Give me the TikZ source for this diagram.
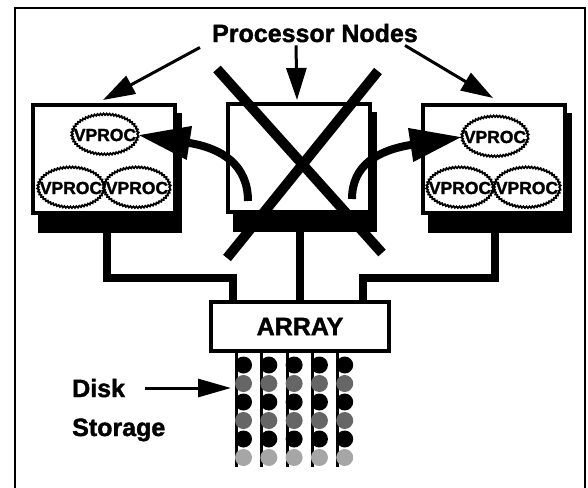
\documentclass[tikz,border=0pt]{standalone}
\usepackage{fontspec}
\setmainfont{Liberation Sans}[BoldFeatures={FakeBold=1.5}]
\usetikzlibrary{arrows.meta,decorations.pathmorphing,calc}
\begin{document}
\begin{tikzpicture}[x=1pt,y=-1pt,
  lbl/.style={font=\bfseries\fontsize{25}{25}\selectfont, inner sep=0pt},
  vp/.style={font=\bfseries\fontsize{17.5}{17.5}\selectfont, inner sep=0pt},
  pbox/.style={draw, line width=4pt, fill=white, minimum width=142pt, minimum height=108pt, inner sep=0pt},
  wavy/.style={decorate, decoration={snake, amplitude=0.8pt, segment length=3pt}, line width=1.8pt},
  ptr/.style={line width=3pt, -{Triangle[length=32pt,width=20pt]}},
  bigarr/.style={line width=8pt, -{Triangle[length=52pt,width=32pt]}},
  wire/.style={line width=8pt},
  xline/.style={line width=10pt},
]
\useasboundingbox (0,0) rectangle (588,487);
% frame
\draw[line width=2pt] (15,490) -- (15,8) -- (585,8) -- (585,490);

% boxes (with shadows)
\coordinate (lc) at (104,159);
\coordinate (cc) at (299,158);
\coordinate (rc) at (494,159);
\foreach \c in {lc,cc,rc}{
  \fill ($(\c)+(-66,-46)$) rectangle ($(\c)+(78,74)$);
}
\node[pbox] (lbox) at (lc) {};
\node[pbox] (cbox) at (cc) {};
\node[pbox] (rbox) at (rc) {};

% wires
\draw[wire] ([shift={(3,74)}]lbox.center) -- ++(0,45) -| ([shift={(-67,0)}]300,301);
\draw[wire] ([shift={(1,74)}]cbox.center) -- (300,301);
\draw[wire] ([shift={(1,74)}]rbox.center) -- ++(0,45) -| ([shift={(63,0)}]300,301);
\node[draw, line width=3.5pt, fill=white, minimum width=178pt, minimum height=49pt, lbl] (arr) at (300,326.5) {ARRAY};

% VPROCs
\foreach \n/\x/\y in {la/105/135, lb/71/188, lcx/137/188, ra/495/137, rb/460/188, rcx/527/188}{
  \node[vp] (\n) at (\x,\y) {VPROC};
  \draw[wavy] (\n.center) ellipse [x radius=33pt, y radius=20pt];
}
\coordinate (laE) at ($(la.center)+(33,0)$);
\coordinate (raW) at ($(ra.center)+(-33,0)$);

% X over center box
\draw[xline] (217,69) -- (382,253);
\draw[xline] (378,71) -- (227,258);

% curved arrows
\draw[bigarr] (248,201) .. controls (248,165) and (222,148) .. (laE);
\draw[bigarr] (352,199) .. controls (352,165) and (378,150) .. (raW);

% title
\node[lbl, anchor=base] (title) at (315,42) {Processor Nodes};
\draw[ptr] ([shift={(-12,5)}]title.south west) -- ([shift={(-1,-3)}]lbox.north);
\draw[ptr] ([shift={(-19,3)}]title.south) -- ([shift={(-2,-2)}]cbox.north);
\draw[ptr] ([shift={(-13,3)}]title.south east) -- ([shift={(-1,-5)}]rbox.north);

% disks
\foreach \i in {0,...,4}{
  \pgfmathsetmacro{\xx}{235+25.3*\i}
  \fill (\xx,352) rectangle (\xx+3,467);
  \foreach \r/\col in {0/black, 1/black!60, 2/black, 3/black!60, 4/black, 5/black!35}{
    \fill[\col] (\xx+8.5,365+18.5*\r) circle [radius=8.5pt];
  }
}

% disk label
\node[lbl, anchor=base west] (disk) at (72,397) {Disk};
\node[lbl, anchor=base west] (stor) at (72,436) {Storage};
\coordinate (dtip) at (231,388);
\draw[ptr, -{Triangle[length=33pt,width=18pt]}] ([xshift=20pt]disk.east |- dtip) -- (dtip);
\end{tikzpicture}
\end{document}
